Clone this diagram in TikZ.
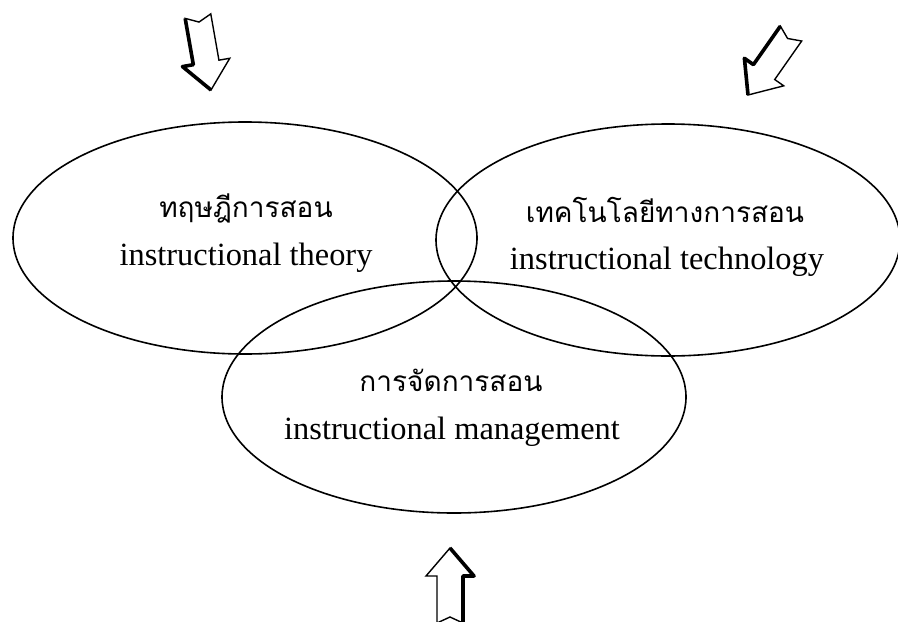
\documentclass[tikz,border=0pt]{standalone}
\usepackage{fontspec}
\setmainfont{Liberation Serif}
\newfontfamily\thaifont[Script=Thai]{Loma}
\usetikzlibrary{shapes,positioning}

\tikzset{
	venn/.style = {draw, thick, ellipse, minimum width=232pt, minimum height=116pt, inner sep=0},
	thaitext/.style = {font=\thaifont\fontsize{14}{16}\selectfont},
	engtext/.style = {font=\fontsize{16.2}{19}\selectfont},
	fat arrow/.pic = {
		\draw [line width=0.7pt, fill=white] (-75,13) -- (-28,13) -- (-28,24) -- (0,0) -- (-28,-24) -- (-28,-13) -- (-75,-13) -- (-69,0) -- cycle;
		\draw [line width=1.8pt, line join=round] (-75,13) -- (-28,13) -- (-28,24) -- (0,0);
	}
}

\begin{document}
\begin{tikzpicture}[x=0.5pt, y=-0.5pt]
		\useasboundingbox (0,0) rectangle (898,621);
		% the three circles
		\node [venn] (theory) at (245,238) {};
		\node [venn] (technology) at (668,240) {};
		\node [venn] (management) at (454,397) {};
		\node [thaitext] (theoryth) at (246,208) {ทฤษฎีการสอน};
		\node [engtext] (theoryen) at (246,258) {instructional theory};
		\node [thaitext] (technologyth) at (665,210) {เทคโนโลยีทางการสอน};
		\node [engtext] (technologyen) at (667,262) {instructional technology};
		\node [thaitext] (managementth) at (451,380) {การจัดการสอน};
		\node [engtext] (managementen) at (452,432) {instructional management};
		% arrows
		\pic [rotate=-80] at (211,90) {fat arrow};
		\pic [rotate=-125] at (748,95) {fat arrow};
		\pic [rotate=90] at (450,548) {fat arrow};
	\end{tikzpicture}
\end{document}
